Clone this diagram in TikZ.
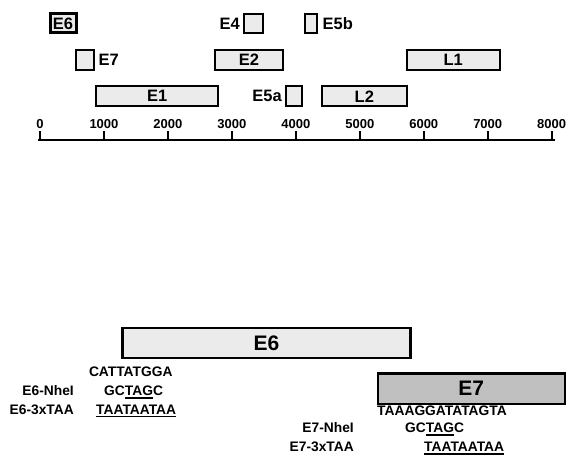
\documentclass[tikz,border=0pt]{standalone}
\usepackage{fontspec}
\setmainfont{Liberation Sans}
\newcommand\myul[1]{\begingroup\setbox0\hbox{#1}\rlap{\rule[-3.2bp]{\wd0}{1.6bp}}\box0\endgroup}
\begin{document}
\begin{tikzpicture}[x=1bp,y=-1bp,
  genebox/.style={draw=black, line width=2bp, fill=boxgray, inner sep=0pt,
    font=\fontsize{16.5bp}{18bp}\selectfont\bfseries},
  bigbox/.style={draw=black, line width=2.4bp, inner sep=0pt,
    font=\fontsize{21bp}{23bp}\selectfont\bfseries},
  sidelbl/.style={inner sep=0pt, font=\fontsize{16.5bp}{18bp}\selectfont\bfseries},
  ticklbl/.style={inner sep=0pt, anchor=base, font=\fontsize{13bp}{14bp}\selectfont\bfseries},
  seq/.style={inner sep=0pt, anchor=base west, font=\fontsize{13.8bp}{15bp}\selectfont\bfseries},
  seqname/.style={inner sep=0pt, anchor=base east, font=\fontsize{13.8bp}{15bp}\selectfont\bfseries}
]
\definecolor{boxgray}{HTML}{EBEBEB}
\definecolor{darkgray7}{HTML}{C0C0C0}
\useasboundingbox (0,0) rectangle (567,463);
% --- top genome map ---
\node[genebox, line width=3bp, minimum width=26bp, minimum height=19bp] (e6s) at (63,23.5) {E6};
\node[genebox, minimum width=19bp, minimum height=19.5bp] (e4) at (253.8,23.5) {};
\node[sidelbl, anchor=east] (e4l) at (240,23.5) {E4};
\node[genebox, minimum width=12.3bp, minimum height=19.5bp] (e5b) at (311.2,23.5) {};
\node[sidelbl, anchor=west] (e5bl) at (322.5,23.5) {E5b};
\node[genebox, minimum width=18bp, minimum height=19.4bp] (e7s) at (84.7,60) {};
\node[sidelbl, anchor=west] (e7l) at (98.5,60) {E7};
\node[genebox, minimum width=68bp, minimum height=19.4bp] (e2) at (249,60) {E2};
\node[genebox, minimum width=93bp, minimum height=19.4bp] (l1) at (453.2,60) {L1};
\node[genebox, minimum width=121.7bp, minimum height=20bp] (e1) at (157.2,96.3) {E1};
\node[genebox, minimum width=16.6bp, minimum height=20bp] (e5a) at (294,96.3) {};
\node[sidelbl, anchor=east] (e5al) at (282,96.3) {E5a};
\node[genebox, minimum width=84.7bp, minimum height=20bp] (l2) at (364.3,96.3) {L2};
% --- axis ---
\coordinate (axl) at (37.7,140);
\coordinate (axr) at (555,140);
\draw[line width=2.2bp] (axl) -- (axr);
\foreach \i in {0,...,8}{
  \pgfmathsetmacro{\xx}{40+63.96*\i}
  \pgfmathtruncatemacro{\lab}{1000*\i}
  \coordinate (t\i) at (\xx,140);
  \coordinate (tt\i) at (\xx,131);
  \draw[line width=2bp] (t\i) -- (tt\i);
  \node[ticklbl] (tl\i) at (\xx,128.5) {\lab};
}
% --- bottom detail ---
\node[bigbox, fill=boxgray, minimum width=288bp, minimum height=30.2bp] (e6b) at (266.5,343) {E6};
\node[bigbox, fill=darkgray7, minimum width=187bp, minimum height=30.3bp] (e7b) at (471.3,388.6) {E7};
\node[seq] (s1) at (88.8,376.5) {CATTATGGA};
\node[seqname] (n1) at (74,395.3) {E6-NheI};
\node[seq] (s2) at (104,395.3) {GC\myul{TAG}C};
\node[seqname] (n2) at (74,414) {E6-3xTAA};
\node[seq] (s3) at (96,414) {\myul{TAATAATAA}};
\node[seq] (s4) at (377,415) {TAAAGGATATAGTA};
\node[seqname] (n3) at (354,432.8) {E7-NheI};
\node[seq] (s5) at (405,432.8) {GC\myul{TAG}C};
\node[seqname] (n4) at (354,451.5) {E7-3xTAA};
\node[seq] (s6) at (424,451.5) {\myul{TAATAATAA}};
\end{tikzpicture}
\end{document}
